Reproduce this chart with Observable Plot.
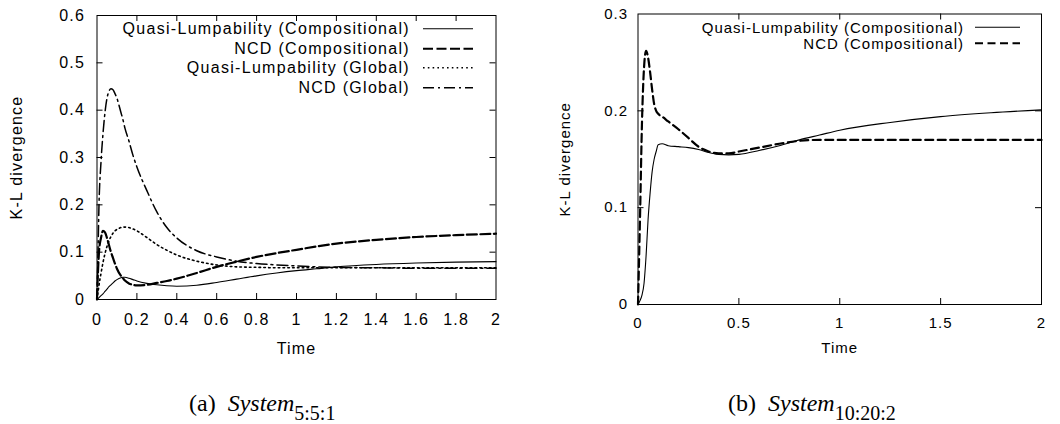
<!DOCTYPE html>
<html><head><meta charset="utf-8">
<script src="https://cdn.jsdelivr.net/npm/d3@7"></script>
<script src="https://cdn.jsdelivr.net/npm/@observablehq/plot@0.6"></script>
<style>
html,body{margin:0;padding:0;background:#fff;color:#000}
#wrap{position:relative;width:1060px;height:424px;overflow:hidden;font-family:"Liberation Sans",Arial,sans-serif}
.panel{position:absolute;top:0}
.legend{position:absolute}
.legend .row{display:flex;justify-content:flex-end;align-items:center;white-space:nowrap}
.legend svg{display:block}
.caption{position:absolute;font-family:"Liberation Serif","Times New Roman",serif;font-size:24px;line-height:24px;white-space:nowrap}
.caption .sys{font-style:italic;margin-left:12px}
.caption .sub{font-size:20px;position:relative;top:9px}
</style></head><body><div id="wrap"></div>
<script>
// ---------- data: panel (a) System 5:5:1 ----------
const tA = [0, 0.005, 0.01, 0.02, 0.03, 0.04, 0.05, 0.06, 0.07, 0.08, 0.09, 0.1, 0.12, 0.13, 0.14, 0.16, 0.18, 0.2, 0.25, 0.3, 0.35, 0.4, 0.5, 0.6, 0.7, 0.8, 0.9, 1.0, 1.1, 1.2, 1.4, 1.6, 1.8, 2.0];
const qlCompA = [0, 0.002, 0.004, 0.008, 0.012, 0.017, 0.022, 0.027, 0.031, 0.035, 0.039, 0.042, 0.046, 0.047, 0.047, 0.045, 0.042, 0.039, 0.034, 0.031, 0.029, 0.028, 0.030, 0.036, 0.043, 0.050, 0.056, 0.061, 0.065, 0.069, 0.074, 0.077, 0.079, 0.080];
const ncdCompA = [0, 0.06, 0.10, 0.13, 0.145, 0.142, 0.13, 0.115, 0.10, 0.088, 0.076, 0.065, 0.05, 0.045, 0.04, 0.034, 0.031, 0.030, 0.031, 0.035, 0.039, 0.044, 0.056, 0.069, 0.080, 0.090, 0.098, 0.105, 0.112, 0.118, 0.126, 0.132, 0.136, 0.139];
const qlGlobA = [0, 0.015, 0.03, 0.055, 0.078, 0.097, 0.112, 0.124, 0.133, 0.14, 0.145, 0.148, 0.152, 0.153, 0.153, 0.152, 0.149, 0.145, 0.131, 0.116, 0.104, 0.094, 0.081, 0.073, 0.069, 0.068, 0.067, 0.067, 0.067, 0.067, 0.067, 0.067, 0.067, 0.067];
const ncdGlobA = [0, 0.10, 0.20, 0.29, 0.35, 0.395, 0.425, 0.44, 0.445, 0.443, 0.435, 0.425, 0.395, 0.38, 0.362, 0.335, 0.305, 0.28, 0.23, 0.185, 0.152, 0.13, 0.103, 0.09, 0.081, 0.076, 0.073, 0.071, 0.069, 0.068, 0.067, 0.066, 0.066, 0.066];
const xTicksA = [0, 0.2, 0.4, 0.6, 0.8, 1, 1.2, 1.4, 1.6, 1.8, 2];
const yTicksA = [0, 0.1, 0.2, 0.3, 0.4, 0.5, 0.6];
const seriesNamesA = ["Quasi-Lumpability (Compositional)", "NCD (Compositional)", "Quasi-Lumpability (Global)", "NCD (Global)"];

// ---------- data: panel (b) System 10:20:2 ----------
const tB = [0, 0.01, 0.02, 0.03, 0.04, 0.05, 0.06, 0.07, 0.08, 0.09, 0.1, 0.12, 0.15, 0.2, 0.25, 0.3, 0.35, 0.4, 0.45, 0.5, 0.6, 0.7, 0.8, 0.9, 1.0, 1.25, 1.5, 1.75, 2.0];
const qlCompB = [0, 0.004, 0.01, 0.022, 0.05, 0.088, 0.115, 0.137, 0.15, 0.158, 0.165, 0.166, 0.164, 0.163, 0.162, 0.16, 0.157, 0.155, 0.1545, 0.155, 0.159, 0.164, 0.170, 0.175, 0.180, 0.188, 0.194, 0.198, 0.201];
const ncdCompB = [0, 0.09, 0.19, 0.245, 0.262, 0.255, 0.24, 0.222, 0.207, 0.200, 0.197, 0.194, 0.189, 0.181, 0.172, 0.163, 0.158, 0.156, 0.156, 0.158, 0.162, 0.166, 0.169, 0.170, 0.170, 0.170, 0.170, 0.170, 0.170];
const xTicksB = [0, 0.5, 1, 1.5, 2];
const yTicksB = [0, 0.1, 0.2, 0.3];
const seriesNamesB = ["Quasi-Lumpability (Compositional)", "NCD (Compositional)"];

const xLabel = "Time";
const yLabel = "K-L divergence";
const captions = [["(a)", "System", "5:5:1"], ["(b)", "System", "10:20:2"]];

// ---------- styles ----------
const stylesA = [
  {strokeWidth: 1.1, dash: null},
  {strokeWidth: 2.2, dash: "10,3.5"},
  {strokeWidth: 1.6, dash: "1.6,3.2"},
  {strokeWidth: 1.5, dash: "11,4,2,4"}
];
const stylesB = [
  {strokeWidth: 1.1, dash: null},
  {strokeWidth: 2.2, dash: "8,4.5"}
];

const wrap = document.getElementById("wrap");
const fmt = d => String(d);
const TICK = 6;

function rows(t, cols, names) {
  const out = [];
  cols.forEach((vals, k) => t.forEach((x, i) => out.push({t: x, v: vals[i], s: names[k]})));
  return out;
}

function panel(cfg) {
  const data = rows(cfg.t, cfg.cols, cfg.names);
  const W = 530, H = 370;
  const ph = H - cfg.mt - cfg.mb, pw = W - cfg.ml - cfg.mr;
  const lines = cfg.names.map((n, k) => Plot.line(data.filter(d => d.s === n), {
    x: "t", y: "v", stroke: "black", strokeWidth: cfg.styles[k].strokeWidth,
    strokeDasharray: cfg.styles[k].dash, curve: "monotone-x"
  }));
  const inner = cfg.xTicks.slice(1, -1), innerY = cfg.yTicks.slice(1, -1);
  const p = Plot.plot({
    width: W, height: H,
    marginLeft: cfg.ml, marginRight: cfg.mr, marginTop: cfg.mt, marginBottom: cfg.mb,
    x: {domain: [0, 2], label: null, axis: null},
    y: {domain: cfg.yDomain, label: null, axis: null},
    style: {fontFamily: '"Liberation Sans", Arial, sans-serif', fontSize: cfg.fs + "px", letterSpacing: cfg.ls + "px", background: "transparent", color: "black", overflow: "visible"},
    marks: [
      // inward gnuplot-style ticks on all four sides
      Plot.tickX(inner, {x: d => d, stroke: "black", strokeWidth: 1, insetTop: ph - TICK}),
      Plot.tickX(inner, {x: d => d, stroke: "black", strokeWidth: 1, insetBottom: ph - TICK}),
      Plot.tickY(innerY, {y: d => d, stroke: "black", strokeWidth: 1, insetRight: pw - TICK}),
      Plot.tickY(innerY, {y: d => d, stroke: "black", strokeWidth: 1, insetLeft: pw - TICK}),
      ...lines,
      Plot.frame({stroke: "black", strokeWidth: 1}),
      Plot.axisX(cfg.xTicks, {anchor: "bottom", tickSize: 0, tickPadding: cfg.xPad, tickFormat: fmt, label: xLabel, labelAnchor: "center", labelOffset: cfg.xLabOff, labelArrow: "none"}),
      Plot.axisY(cfg.yTicks, {anchor: "left", tickSize: 0, tickPadding: cfg.yPad, tickFormat: fmt, label: yLabel, labelAnchor: "center", labelOffset: cfg.yLabOff, labelArrow: "none"})
    ]
  });
  const box = document.createElement("div");
  box.className = "panel";
  box.style.left = cfg.left + "px";
  box.appendChild(p);
  wrap.appendChild(box);

  // legend (gnuplot style: text right-aligned, sample to the right)
  const lg = document.createElement("div");
  lg.className = "legend";
  lg.style.left = (cfg.left + cfg.lgRight - 420) + "px";
  lg.style.width = "420px";
  lg.style.top = cfg.lgTop + "px";
  lg.style.fontSize = cfg.lfs + "px";
  lg.style.letterSpacing = cfg.lls + "px";
  cfg.names.forEach((n, k) => {
    const r = document.createElement("div");
    r.className = "row";
    r.style.height = cfg.lgRow + "px";
    const sp = document.createElement("span");
    sp.textContent = n;
    r.appendChild(sp);
    const svg = d3.create("svg").attr("width", cfg.sampleW).attr("height", cfg.lgRow).style("margin-left", cfg.sampleGap + "px");
    svg.append("line").attr("x1", 0).attr("x2", cfg.sampleW).attr("y1", cfg.lgRow / 2).attr("y2", cfg.lgRow / 2)
      .attr("stroke", "black").attr("stroke-width", cfg.styles[k].strokeWidth)
      .attr("stroke-dasharray", cfg.styles[k].dash);
    r.appendChild(svg.node());
    lg.appendChild(r);
  });
  wrap.appendChild(lg);

  const cap = document.createElement("div");
  cap.className = "caption";
  cap.style.left = cfg.capLeft + "px";
  cap.style.top = "391px";
  cap.innerHTML = `<span>${cfg.cap[0]}</span><span class="sys">${cfg.cap[1]}</span><span class="sub">${cfg.cap[2]}</span>`;
  wrap.appendChild(cap);
}

panel({
  left: 0, t: tA, cols: [qlCompA, ncdCompA, qlGlobA, ncdGlobA], names: seriesNamesA, styles: stylesA,
  ml: 96.5, mr: 34.5, mt: 15, mb: 71, yDomain: [0, 0.6], xTicks: xTicksA, yTicks: yTicksA,
  fs: 16, ls: 1.2, xPad: 14, yPad: 12, xLabOff: 54, yLabOff: 86,
  lgRight: 473, lgTop: 19.25, lgRow: 19.5, lfs: 16, lls: 1.3, sampleW: 50, sampleGap: 13,
  capLeft: 189, cap: captions[0]
});
panel({
  left: 530, t: tB, cols: [qlCompB, ncdCompB], names: seriesNamesB, styles: stylesB,
  ml: 107.5, mr: 19, mt: 13.5, mb: 66, yDomain: [0, 0.3], xTicks: xTicksB, yTicks: yTicksB,
  fs: 15, ls: 1, xPad: 13, yPad: 10, xLabOff: 48, yLabOff: 79,
  lgRight: 490, lgTop: 18.75, lgRow: 16.5, lfs: 15, lls: 1, sampleW: 45, sampleGap: 11,
  capLeft: 728, cap: captions[1]
});
</script>
</body></html>
